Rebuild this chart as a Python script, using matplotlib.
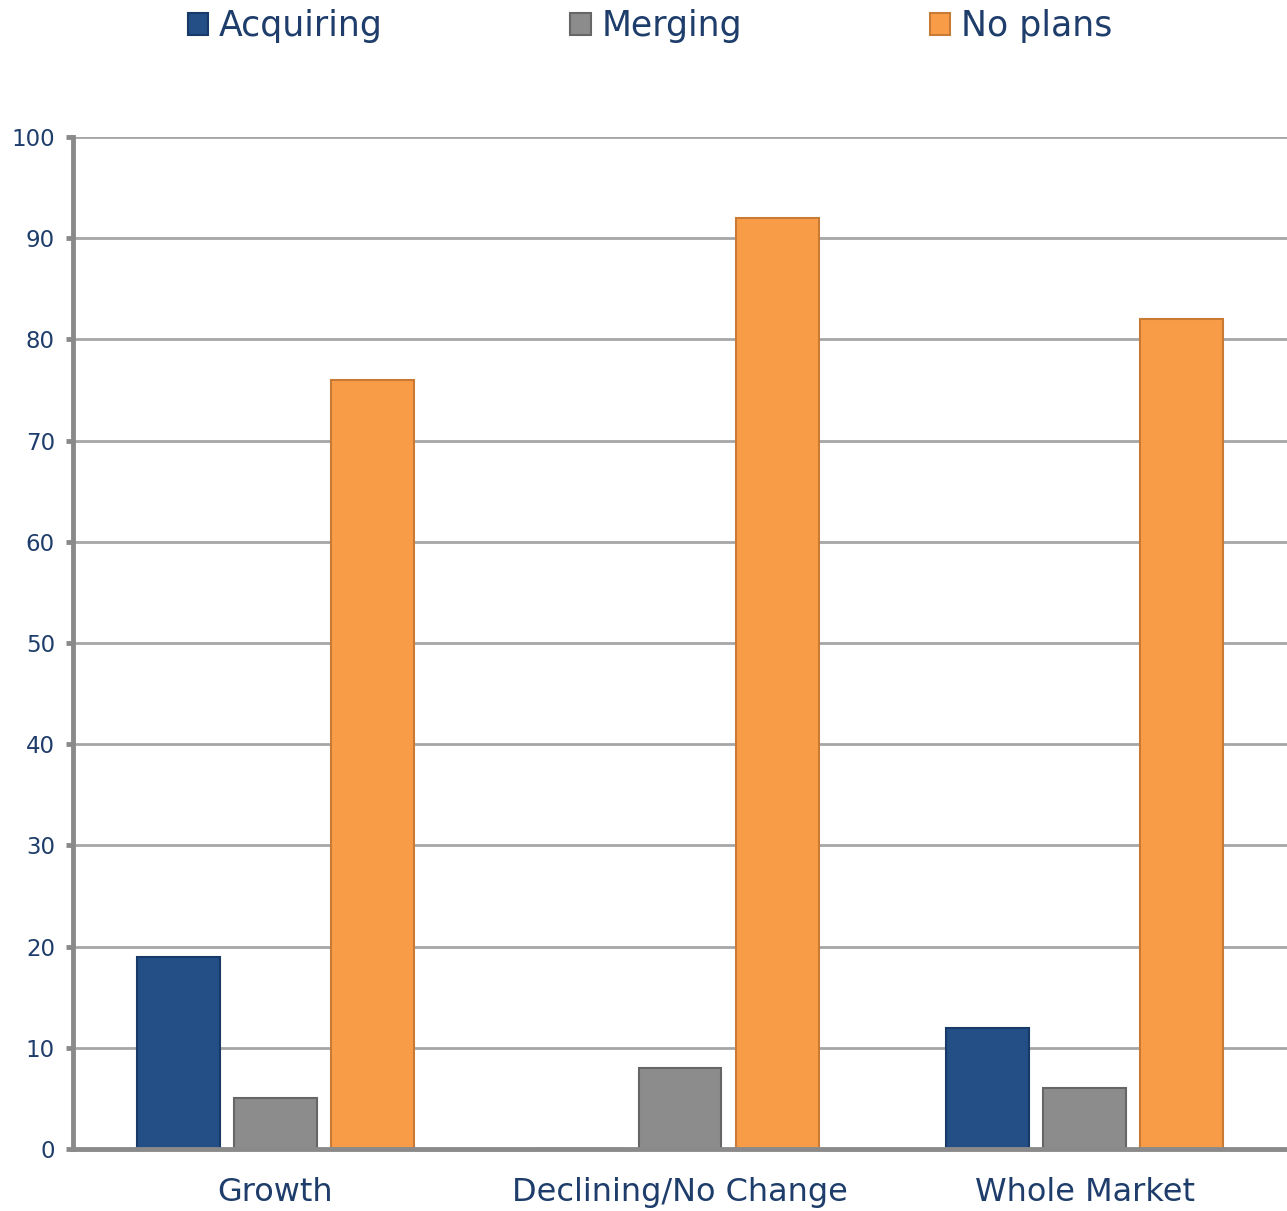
import numpy as np
import matplotlib
matplotlib.use("Agg")
import matplotlib.pyplot as plt

categories = ["Growth", "Declining/No Change", "Whole Market"]
series_names = ["Acquiring", "Merging", "No plans"]
acquiring = [19, 0, 12]
merging = [5, 8, 6]
no_plans = [76, 92, 82]

colors = ["#234E86", "#8C8C8C", "#F99C47"]
edges = ["#183A68", "#666666", "#C97A35"]
text_color = "#1E3D6B"
grey = "#8A8A8A"

plt.rcParams['font.family'] = ['DejaVu Sans']

fig = plt.figure(figsize=(12.87, 12.11), dpi=100)
ax = fig.add_axes([0.0567, 0.0512, 0.9433, 0.8357])

x = np.arange(len(categories))
width = 0.205
offset = 0.24
for i, (vals, name) in enumerate(zip([acquiring, merging, no_plans], series_names)):
    ax.bar(x + (i - 1) * offset, vals, width, color=colors[i],
           edgecolor=edges[i], linewidth=1.5, label=name, zorder=3)

ax.set_xlim(-0.5, 2.5)
ax.set_ylim(0, 100)
ax.set_yticks(range(0, 101, 10))
ax.yaxis.grid(True, color="#A6A6A6", linewidth=2, zorder=0)
ax.set_axisbelow(True)

for side in ["top", "right"]:
    ax.spines[side].set_visible(False)
for side in ["left", "bottom"]:
    ax.spines[side].set_color(grey)
    ax.spines[side].set_linewidth(3.5)
    ax.spines[side].set_zorder(4)

ax.set_xticks(x)
ax.set_xticklabels(categories)
ax.tick_params(axis="x", length=0, pad=20, labelsize=23, labelcolor=text_color)
ax.tick_params(axis="y", length=5, width=3.5, color=grey, pad=8,
               labelsize=16.5, labelcolor=text_color)

leg = fig.legend(loc="upper center", bbox_to_anchor=(0.505, 1.018), ncol=3,
                 frameon=False, fontsize=25, handlelength=0.6, handleheight=0.6,
                 handletextpad=0.3, columnspacing=5.4)
for t in leg.get_texts():
    t.set_color(text_color)

fig.savefig("out.png", dpi=100)
